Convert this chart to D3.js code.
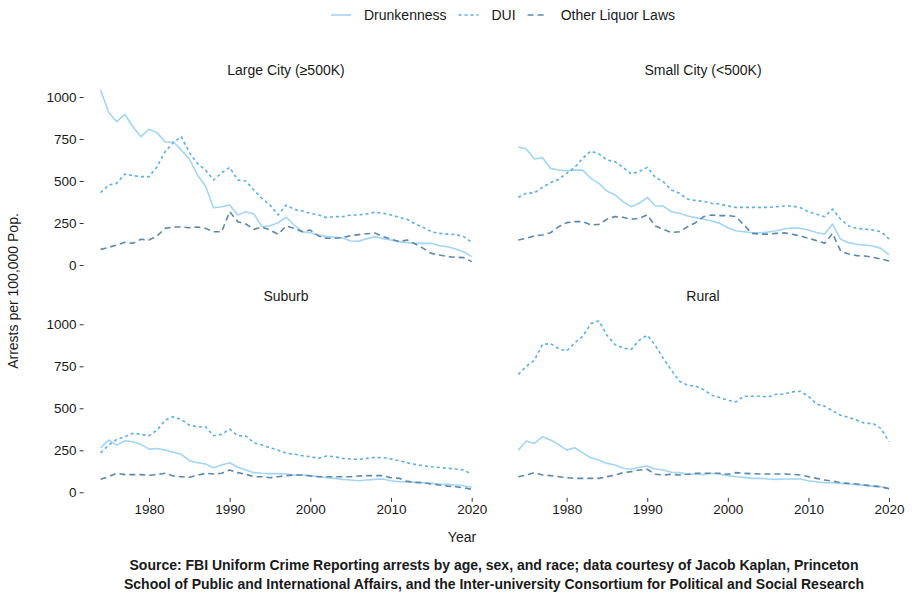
<!DOCTYPE html>
<html>
<head>
<meta charset="utf-8">
<script src="https://cdn.jsdelivr.net/npm/d3@7"></script>
<style>
  body { margin: 0; background: #fff; }
  svg { display: block; font-family: "Liberation Sans", Arial, Helvetica, sans-serif; }
</style>
</head>
<body>
<svg id="chart" width="912" height="598"></svg>
<script>
// ---- data ----
const years = d3.range(1974, 2021);
const seriesNames = ["Drunkenness", "DUI", "Other Liquor Laws"];
const panelNames = ["Large City (≥500K)", "Small City (<500K)", "Suburb", "Rural"];
const yTicks = [0, 250, 500, 750, 1000];
const xTicks = [1980, 1990, 2000, 2010, 2020];

const largeDrunk = [1042,909,853,897,823,764,808,788,732,732,685,631,536,470,341,347,357,298,317,304,228,234,252,284,238,198,192,179,169,165,161,143,141,157,169,157,149,139,133,129,129,129,115,109,95,79,50];
const largeDUI = [431,476,486,542,532,526,526,585,675,728,764,669,605,565,506,549,581,506,500,446,397,357,298,357,331,321,308,298,282,288,288,298,298,304,315,308,298,284,272,244,224,198,188,184,182,169,135];
const largeOther = [93,105,119,135,129,153,149,173,218,226,226,222,226,218,198,198,317,258,244,212,226,208,183,232,218,198,208,173,159,159,163,175,181,186,190,169,155,139,149,125,99,69,60,50,46,44,20];

const smallDrunk = [704,690,631,639,575,565,561,565,565,516,486,440,417,377,347,367,403,351,351,317,308,292,282,272,262,248,222,204,198,192,192,196,204,214,222,218,208,194,183,244,153,133,123,119,113,99,60];
const smallDUI = [403,427,430,462,490,510,546,581,635,679,661,625,615,581,542,556,581,522,496,446,427,393,383,379,367,363,351,343,343,343,343,343,347,351,351,341,317,302,288,333,272,232,218,214,208,198,155];
const smallOther = [149,159,173,179,192,228,252,258,258,238,242,272,288,284,272,278,298,232,212,194,198,228,252,288,298,294,294,288,238,188,184,184,188,192,183,173,159,145,129,188,83,65,56,54,46,36,24];

const suburbDrunk = [265,311,281,307,301,285,257,261,251,238,226,188,176,168,146,162,176,149,133,117,113,111,111,109,103,103,99,93,87,83,77,73,69,73,77,79,69,63,63,59,57,53,49,47,43,39,30];
const suburbDUI = [235,281,315,331,351,345,337,370,430,449,434,400,390,390,337,345,376,337,335,295,281,265,251,233,227,218,212,202,216,212,202,198,196,202,208,206,198,188,176,166,158,152,148,143,139,133,107];
const suburbOther = [77,93,113,105,105,105,101,105,113,97,93,89,101,113,109,113,133,117,107,93,93,87,93,99,103,103,97,93,93,93,93,93,97,99,99,99,87,83,65,59,57,49,43,37,33,27,18];

const ruralDrunk = [251,305,291,331,311,285,251,265,235,206,192,172,162,143,137,149,156,139,133,119,117,107,107,105,113,107,99,93,89,83,83,79,77,79,79,79,69,63,57,57,53,49,45,41,37,33,24];
const ruralDUI = [701,750,786,881,885,855,841,889,929,1004,1020,935,879,859,850,905,935,875,796,727,661,638,632,610,578,564,548,538,572,572,572,568,584,584,598,601,572,525,513,485,459,446,430,410,410,380,301];
const ruralOther = [93,103,117,103,99,93,87,83,83,83,83,93,103,117,123,133,137,107,103,107,103,107,113,113,113,113,107,117,113,111,109,109,109,109,107,103,93,83,73,67,57,53,49,43,37,33,21];

const panelData = [
  [largeDrunk, largeDUI, largeOther],
  [smallDrunk, smallDUI, smallOther],
  [suburbDrunk, suburbDUI, suburbOther],
  [ruralDrunk, ruralDUI, ruralOther]
];

// ---- styles ----
const colors = ["#a3d5f5", "#5aafe6", "#5d88a8"];
const dashes = [null, "3,3", "6,4"];

const svg = d3.select("#chart");

// layout
const colRanges = [[100.6, 471.7], [518.3, 889]];
const rowRanges = [[265, 97], [492.3, 324.3]];
const stripY = [74.5, 300.5];
const panelCenters = [286, 703];

const textColor = "#1a1a1a";
const fontMain = 14;
const fontTick = 13.5;

panelData.forEach((series, i) => {
  const col = i % 2, row = Math.floor(i / 2);
  const x = d3.scaleLinear().domain([1974, 2020]).range(colRanges[col]);
  const y = d3.scaleLinear().domain([0, 1000]).range(rowRanges[row]);
  const g = svg.append("g");

  // strip title
  g.append("text")
    .attr("x", panelCenters[col]).attr("y", stripY[row])
    .attr("text-anchor", "middle")
    .attr("font-size", fontMain).attr("fill", textColor)
    .text(panelNames[i]);

  // y axis on left column
  if (col === 0) {
    const ya = g.append("g")
      .attr("transform", `translate(${colRanges[0][0] - 21},0)`)
      .call(d3.axisLeft(y).tickValues(yTicks).tickFormat(d3.format("d")).tickSize(4).tickPadding(3));
    ya.select(".domain").remove();
    ya.selectAll(".tick line").attr("stroke", "#333").attr("transform", "translate(4,0)");
    ya.selectAll(".tick text").attr("font-size", fontTick).attr("fill", textColor)
      .attr("font-family", "Liberation Sans, Arial, sans-serif")
      .attr("x", -3);
  }
  // x axis on bottom row
  if (row === 1) {
    const xa = g.append("g")
      .attr("transform", `translate(0,${rowRanges[1][0] + 5.5})`)
      .call(d3.axisBottom(x).tickValues(xTicks).tickFormat(d3.format("d")).tickSize(4).tickPadding(3));
    xa.select(".domain").remove();
    xa.selectAll(".tick line").attr("stroke", "#333");
    xa.selectAll(".tick text").attr("font-size", fontTick).attr("fill", textColor)
      .attr("font-family", "Liberation Sans, Arial, sans-serif");
  }

  const line = d3.line().x((d, j) => x(years[j])).y(d => y(d));
  series.forEach((vals, s) => {
    g.append("path")
      .datum(vals)
      .attr("d", line)
      .attr("fill", "none")
      .attr("stroke", colors[s])
      .attr("stroke-width", 1.6)
      .attr("stroke-dasharray", dashes[s])
      .attr("stroke-linejoin", "round");
  });
});

// axis titles
svg.append("text")
  .attr("transform", "translate(18,291) rotate(-90)")
  .attr("text-anchor", "middle")
  .attr("font-size", fontMain).attr("fill", textColor)
  .text("Arrests per 100,000 Pop.");

svg.append("text")
  .attr("x", 462).attr("y", 542)
  .attr("text-anchor", "middle")
  .attr("font-size", fontMain).attr("fill", textColor)
  .text("Year");

// legend
let lx = 331;
const ly = 15;
seriesNames.forEach((name, s) => {
  svg.append("line")
    .attr("x1", lx).attr("x2", lx + 20).attr("y1", ly).attr("y2", ly)
    .attr("stroke", colors[s]).attr("stroke-width", 1.6)
    .attr("stroke-dasharray", dashes[s]);
  const t = svg.append("text")
    .attr("x", lx + 33).attr("y", ly + 5)
    .attr("font-size", fontMain).attr("fill", textColor)
    .text(name);
  lx = lx + 33 + t.node().getComputedTextLength() + 12;
});

// caption
const captionLines = [
  "Source: FBI Uniform Crime Reporting arrests by age, sex, and race; data courtesy of Jacob Kaplan, Princeton",
  "School of Public and International Affairs, and the Inter-university Consortium for Political and Social Research"
];
captionLines.forEach((c, k) => {
  svg.append("text")
    .attr("x", 494).attr("y", 570 + k * 19)
    .attr("text-anchor", "middle")
    .attr("font-size", fontMain).attr("font-weight", "bold").attr("fill", textColor)
    .text(c);
});
</script>
</body>
</html>
